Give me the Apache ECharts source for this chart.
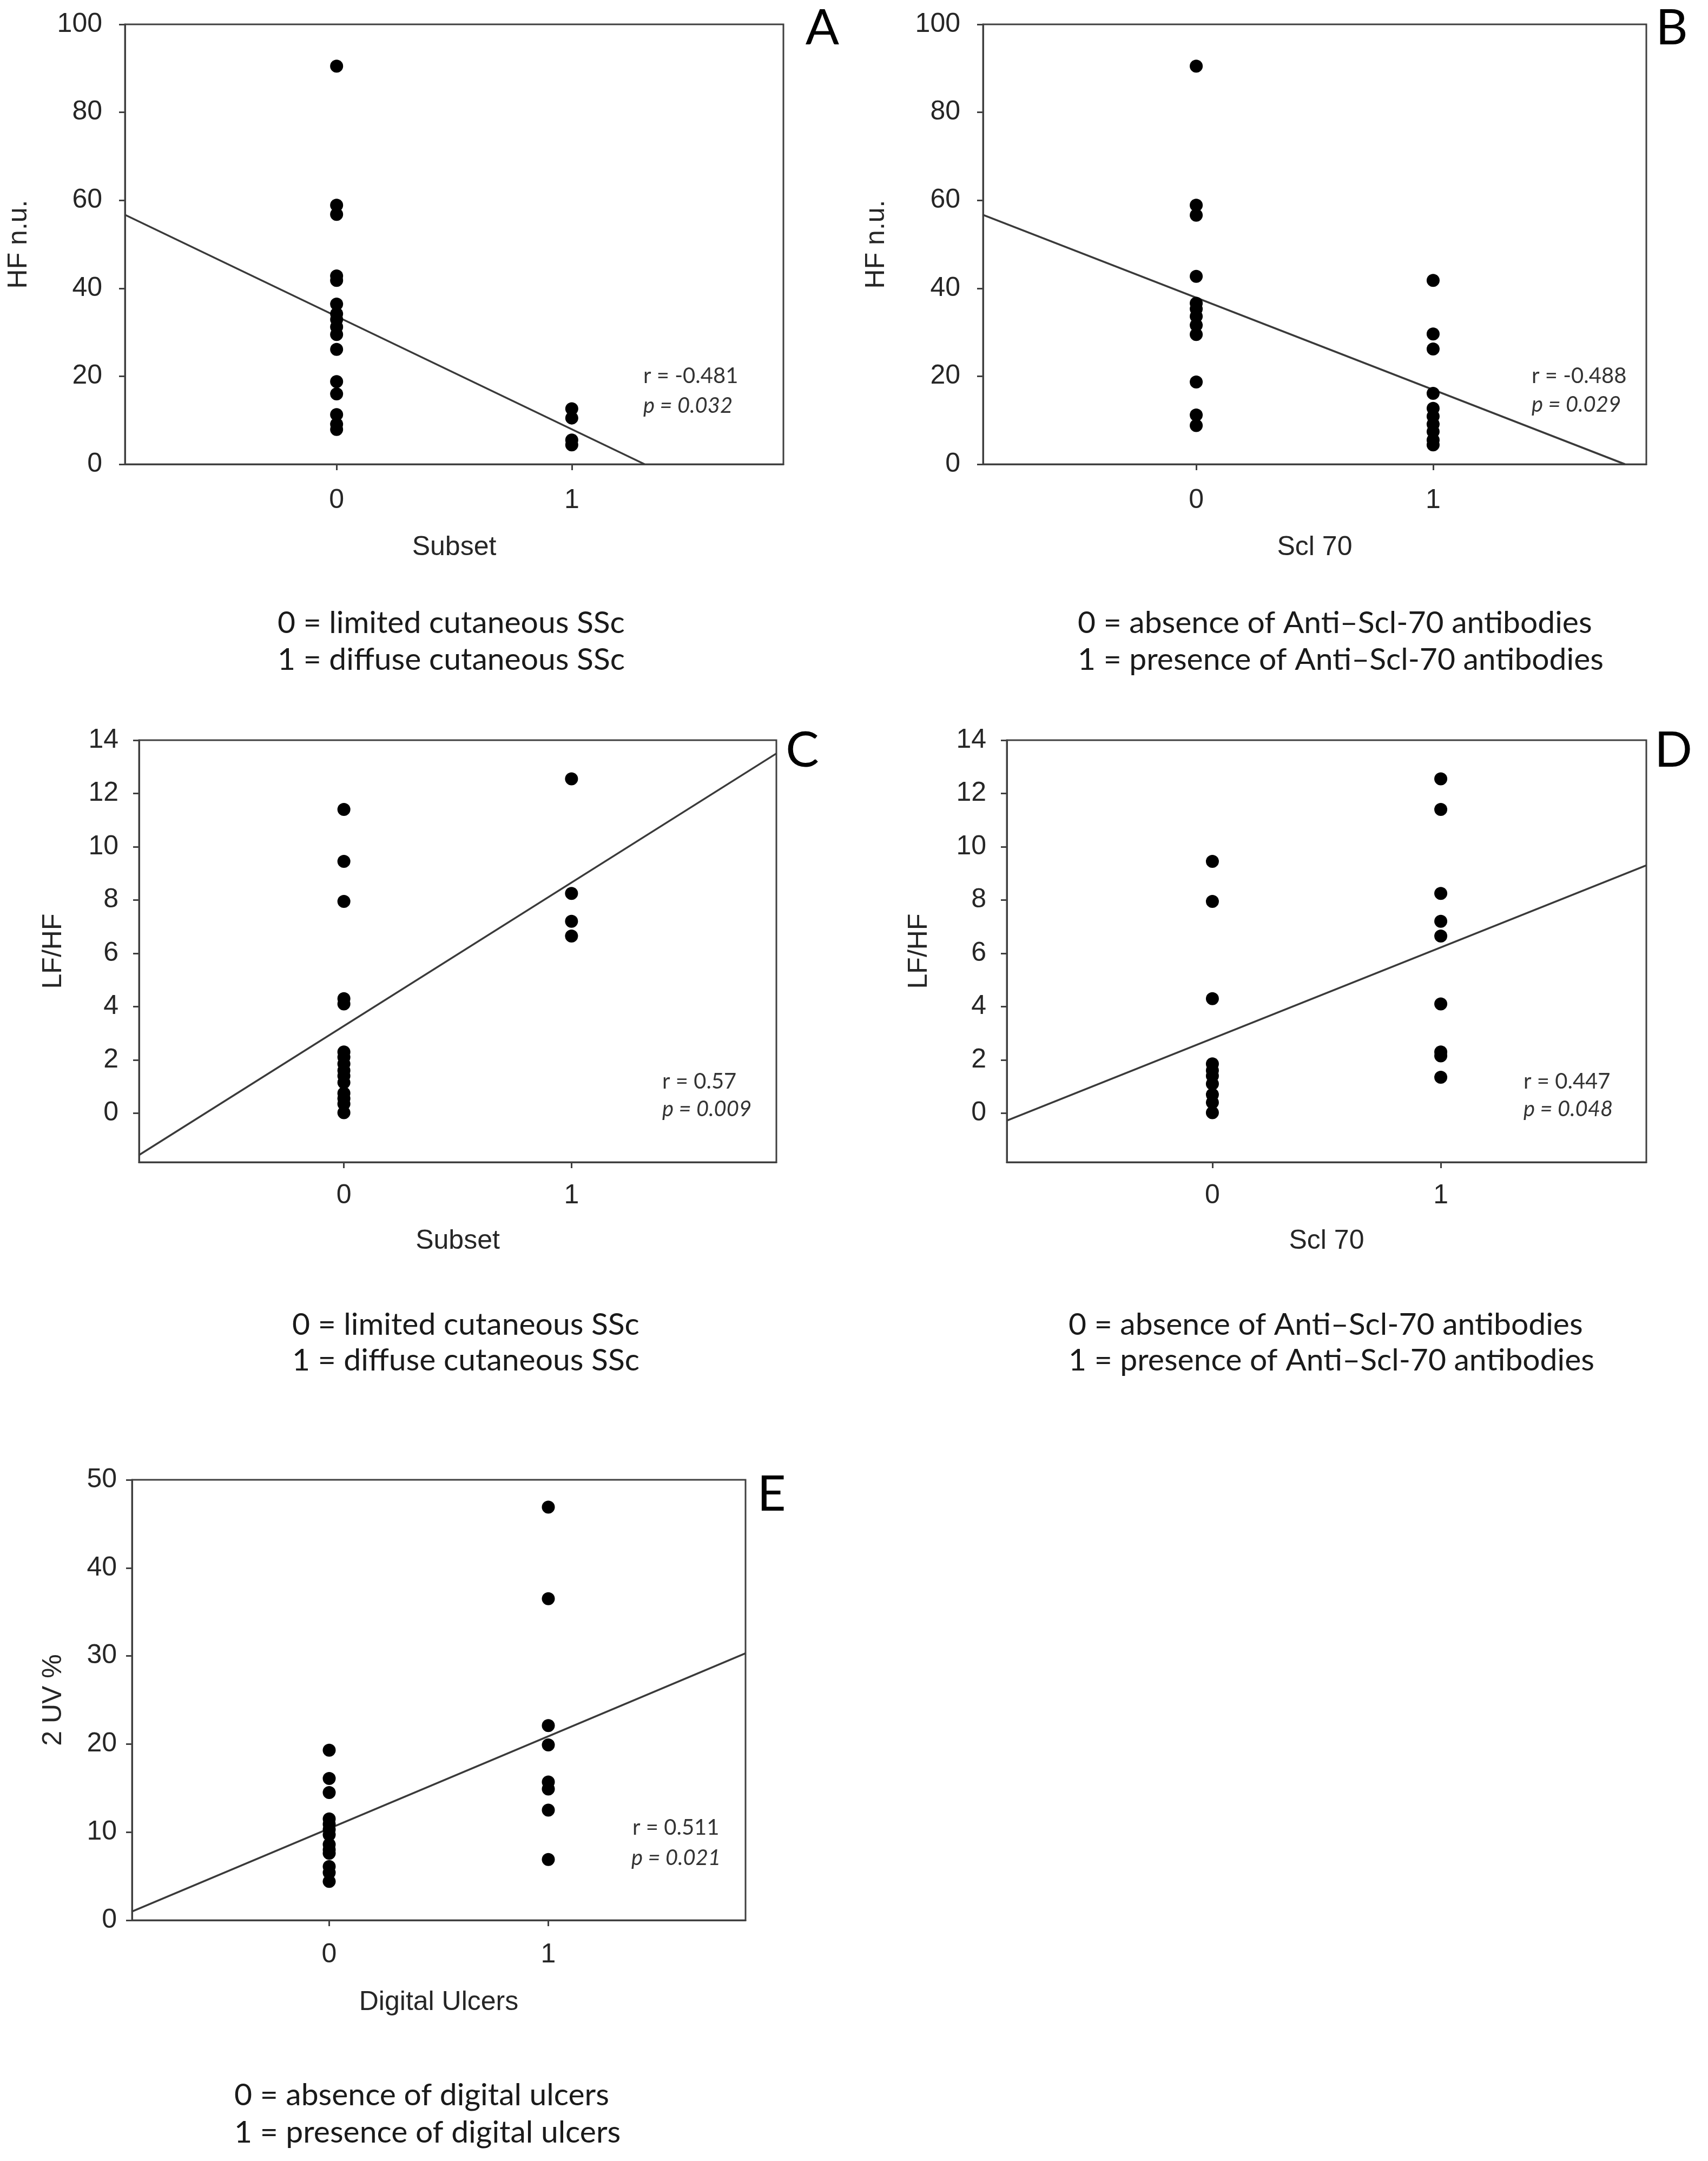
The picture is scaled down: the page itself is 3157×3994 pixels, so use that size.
<!DOCTYPE html>
<html>
<head>
<meta charset="utf-8">
<script src="https://cdn.jsdelivr.net/npm/echarts@6/dist/echarts.min.js"></script>
<style>
  html, body { margin: 0; padding: 0; background: #ffffff; }
  #chart { width: 3157px; height: 3994px; }
</style>
</head>
<body>
<div id="chart"></div>
<script>
// ---------------- DATA ----------------
const xTicks = [0, 1];
const yTicksHF = [0, 20, 40, 60, 80, 100];
const yTicksLFHF = [0, 2, 4, 6, 8, 10, 12, 14];
const yTicksUV = [0, 10, 20, 30, 40, 50];

// A: HF n.u. vs Subset
const hfSubset0 = [90.5, 58.9, 56.8, 42.8, 41.8, 36.4, 34.2, 32.9, 31.2, 29.5, 26.1, 18.8, 16.0, 11.3, 9.1, 7.9];
const hfSubset1 = [12.6, 10.5, 5.5, 4.4];
const hfSubsetFit = [[-0.9, 56.7], [1.31, 0]];

// B: HF n.u. vs Scl 70
const hfScl0 = [90.5, 58.9, 56.6, 42.7, 36.6, 35.3, 33.6, 31.6, 29.5, 18.7, 11.2, 8.8];
const hfScl1 = [41.8, 29.6, 26.2, 16.1, 12.7, 10.9, 9.1, 7.4, 5.5, 4.4];
const hfSclFit = [[-0.9, 56.7], [1.81, 0]];

// C: LF/HF vs Subset
const lfhfSubset0 = [11.4, 9.45, 7.95, 4.3, 4.1, 2.3, 2.1, 1.85, 1.6, 1.4, 1.15, 0.75, 0.55, 0.35, 0.02];
const lfhfSubset1 = [12.55, 8.25, 7.2, 6.65];
const lfhfSubsetFit = [[-0.9, -1.57], [1.9, 13.5]];

// D: LF/HF vs Scl 70
const lfhfScl0 = [9.45, 7.95, 4.3, 1.85, 1.6, 1.4, 1.1, 0.7, 0.4, 0.02];
const lfhfScl1 = [12.55, 11.4, 8.25, 7.2, 6.65, 4.1, 2.3, 2.15, 1.35];
const lfhfSclFit = [[-0.9, -0.28], [1.9, 9.3]];

// E: 2 UV % vs Digital Ulcers
const uvDU0 = [19.3, 16.1, 14.5, 11.5, 10.9, 10.3, 9.7, 8.6, 8.0, 7.6, 6.1, 5.4, 4.4];
const uvDU1 = [46.9, 36.5, 22.1, 19.9, 15.7, 14.9, 12.5, 6.9];
const uvDUFit = [[-0.9, 0.99], [1.9, 30.3]];

const panelLetters = ['A', 'B', 'C', 'D', 'E'];
const xNames = ['Subset', 'Scl 70', 'Subset', 'Scl 70', 'Digital Ulcers'];
const yNames = ['HF n.u.', 'HF n.u.', 'LF/HF', 'LF/HF', '2 UV %'];
const rTexts = ['r = -0.481', 'r = -0.488', 'r = 0.57', 'r = 0.447', 'r = 0.511'];
const pTexts = ['p = 0.032', 'p = 0.029', 'p = 0.009', 'p = 0.048', 'p = 0.021'];
const captions = [
  ['0 = limited cutaneous SSc', '1 = diffuse cutaneous SSc'],
  ['0 = absence of Anti\u2013Scl-70 antibodies', '1 = presence of Anti\u2013Scl-70 antibodies'],
  ['0 = limited cutaneous SSc', '1 = diffuse cutaneous SSc'],
  ['0 = absence of Anti\u2013Scl-70 antibodies', '1 = presence of Anti\u2013Scl-70 antibodies'],
  ['0 = absence of digital ulcers', '1 = presence of digital ulcers']
];

// ---------------- LAYOUT ----------------
const panels = [
  { grid: {left: 231, top: 45, width: 1217, height: 813}, yMin: 0, yMax: 100, yTicks: yTicksHF,
    g0: hfSubset0, g1: hfSubset1, fit: hfSubsetFit, yGap: 171, xGap: 129, xMargin: 42, yMargin: 42,
    letter: [1520, 52], r: [1189, 695], p: [1189, 750], cap: [513, 1152, 1220] },
  { grid: {left: 1817, top: 45, width: 1226, height: 813}, yMin: 0, yMax: 100, yTicks: yTicksHF,
    g0: hfScl0, g1: hfScl1, fit: hfSclFit, yGap: 172, xGap: 129, xMargin: 42, yMargin: 42,
    letter: [3090, 52], r: [2831, 695], p: [2831, 748], cap: [1992, 1152, 1220] },
  { grid: {left: 257, top: 1368, width: 1178, height: 780}, yMin: -1.84, yMax: 14, yTicks: yTicksLFHF,
    g0: lfhfSubset0, g1: lfhfSubset1, fit: lfhfSubsetFit, yGap: 133, xGap: 121, xMargin: 37, yMargin: 38,
    letter: [1483, 1387], r: [1224, 1999], p: [1224, 2050], cap: [540, 2449, 2515] },
  { grid: {left: 1861, top: 1368, width: 1182, height: 780}, yMin: -1.84, yMax: 14, yTicks: yTicksLFHF,
    g0: lfhfScl0, g1: lfhfScl1, fit: lfhfSclFit, yGap: 137, xGap: 121, xMargin: 37, yMargin: 38,
    letter: [3093, 1387], r: [2816, 1999], p: [2816, 2050], cap: [1975, 2449, 2515] },
  { grid: {left: 244, top: 2735, width: 1134, height: 814}, yMin: 0, yMax: 50, yTicks: yTicksUV,
    g0: uvDU0, g1: uvDU1, fit: uvDUFit, yGap: 120, xGap: 127, xMargin: 39, yMargin: 28,
    letter: [1426, 2762], r: [1169, 3378], p: [1167, 3434], cap: [433, 3873, 3942] }
];

const AXIS_COLOR = '#404040';
const LABEL_COLOR = '#262626';
const AXIS_FONT = '"Liberation Sans", Arial, sans-serif';
const NOTE_FONT = 'Lato, "Open Sans", sans-serif';

const grids = [], xAxes = [], yAxes = [], series = [], graphics = [];

panels.forEach((pn, i) => {
  grids.push(Object.assign({ show: true, borderColor: AXIS_COLOR, borderWidth: 3, backgroundColor: 'transparent' }, pn.grid));
  xAxes.push({
    type: 'value', gridIndex: i, min: -0.9, max: 1.9,
    name: xNames[i], nameLocation: 'middle', nameGap: pn.xGap,
    nameTextStyle: { fontSize: 50, fontFamily: AXIS_FONT, color: LABEL_COLOR },
    axisLine: { show: true, onZero: false, lineStyle: { color: AXIS_COLOR, width: 3 } },
    axisTick: { show: true, customValues: xTicks, length: 11, inside: false, lineStyle: { color: AXIS_COLOR, width: 3 } },
    axisLabel: { show: true, customValues: xTicks, margin: pn.xMargin, fontSize: 50, fontFamily: AXIS_FONT, color: LABEL_COLOR },
    splitLine: { show: false }
  });
  yAxes.push({
    type: 'value', gridIndex: i, min: pn.yMin, max: pn.yMax,
    name: yNames[i], nameLocation: 'middle', nameGap: pn.yGap, nameRotate: 90,
    nameTextStyle: { fontSize: 50, fontFamily: AXIS_FONT, color: LABEL_COLOR },
    axisLine: { show: true, onZero: false, lineStyle: { color: AXIS_COLOR, width: 3 } },
    axisTick: { show: true, customValues: pn.yTicks, length: 11, inside: false, lineStyle: { color: AXIS_COLOR, width: 3 } },
    axisLabel: { show: true, customValues: pn.yTicks, margin: pn.yMargin, fontSize: 50, fontFamily: AXIS_FONT, color: LABEL_COLOR },
    splitLine: { show: false }
  });
  series.push({
    type: 'line', xAxisIndex: i, yAxisIndex: i, data: pn.fit,
    showSymbol: false, symbol: 'none', clip: true, z: 2,
    lineStyle: { color: '#3a3a3a', width: 3.5 }
  });
  series.push({
    type: 'scatter', xAxisIndex: i, yAxisIndex: i, z: 3,
    data: pn.g0.map(v => [xTicks[0], v]).concat(pn.g1.map(v => [xTicks[1], v])),
    symbol: 'circle', symbolSize: 24, itemStyle: { color: '#000000', opacity: 1 }
  });
  graphics.push({
    type: 'text', x: pn.letter[0], y: pn.letter[1],
    style: { text: panelLetters[i], fontSize: 92, fontFamily: NOTE_FONT, fill: '#000', align: 'center', verticalAlign: 'middle' }
  });
  graphics.push({
    type: 'text', x: pn.r[0], y: pn.r[1],
    style: { text: rTexts[i], fontSize: 40, fontFamily: NOTE_FONT, fill: '#333', align: 'left', verticalAlign: 'middle' }
  });
  graphics.push({
    type: 'text', x: pn.p[0], y: pn.p[1],
    style: { text: pTexts[i], fontSize: 40, fontStyle: 'italic', fontFamily: NOTE_FONT, fill: '#333', align: 'left', verticalAlign: 'middle' }
  });
  captions[i].forEach((line, k) => {
    graphics.push({
      type: 'text', x: pn.cap[0], y: pn.cap[1 + k],
      style: { text: line, fontSize: 57, fontFamily: NOTE_FONT, fill: '#1a1a1a', align: 'left', verticalAlign: 'middle' }
    });
  });
});

const chart = echarts.init(document.getElementById('chart'), null, { renderer: 'canvas', width: 3157, height: 3994 });
chart.setOption({
  backgroundColor: '#ffffff',
  animation: false,
  grid: grids,
  xAxis: xAxes,
  yAxis: yAxes,
  series: series,
  graphic: graphics
});
</script>
</body>
</html>
